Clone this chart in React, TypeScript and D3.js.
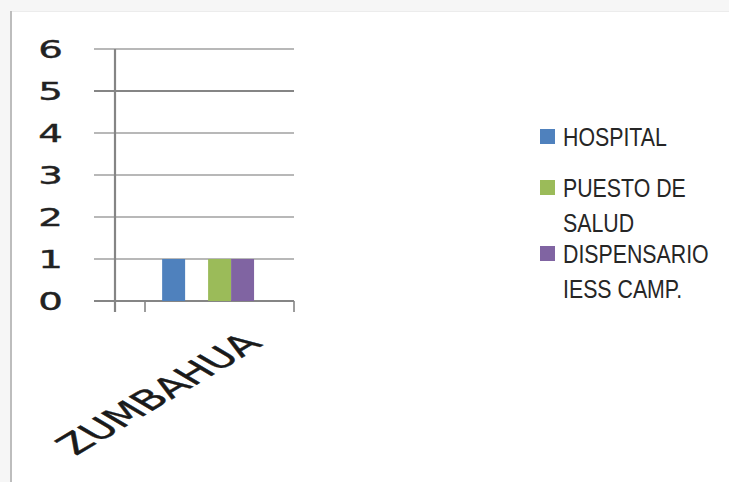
import React from 'react';
import * as d3 from 'd3';

const WIDTH = 729;
const HEIGHT = 482;

const categories = ['ZUMBAHUA'];
const seriesNames = ['HOSPITAL', '', 'PUESTO DE SALUD', 'DISPENSARIO IESS CAMP.'];
const seriesValues = [1, null, 1, 1];
const seriesColors = ['#4f81bd', '#c0504d', '#9bbb59', '#8064a2'];
const legendLines = [['HOSPITAL'], ['PUESTO DE', 'SALUD'], ['DISPENSARIO', 'IESS CAMP.']];
const legendColors = ['#4f81bd', '#9bbb59', '#8064a2'];
const yTicks = [0, 1, 2, 3, 4, 5, 6];

const axisX = 115;
const gridLeft = 94;
const gridRight = 294;

const App = () => {
    const yScale = d3.scaleLinear().domain([0, 6]).range([301, 49]);
    const xScale = d3.scaleBand<string>().domain(categories).range([145, 294]);
    const bw = xScale.bandwidth();
    const seriesScale = d3.scaleBand<number>()
        .domain(seriesNames.map((_, i) => i))
        .range([bw * 0.115, bw * 0.732]);

    const y0 = yScale(0);

    // legend rows
    let ly = 146;
    const legendRows = legendLines.map((lines, i) => {
        const row = {lines, y: ly, color: legendColors[i]};
        ly += 51 + (lines.length - 1) * 15;
        return row;
    });

    return (
        <svg width={WIDTH} height={HEIGHT}
             style={{position: 'absolute', left: 0, top: 0, display: 'block'}}>
            <rect x={0} y={0} width={WIDTH} height={HEIGHT} fill="#f6f6f6"/>
            <rect x={11} y={11} width={WIDTH - 11} height={HEIGHT - 11} fill="#ffffff"/>
            <line x1={11} x2={WIDTH} y1={11.5} y2={11.5} stroke="#ececec" strokeWidth={1}/>
            <line x1={11} x2={11} y1={11} y2={HEIGHT} stroke="#bdbdbd" strokeWidth={2}/>

            {/* gridlines */}
            {yTicks.map(t => (
                <line key={t} x1={gridLeft} x2={gridRight} y1={yScale(t)} y2={yScale(t)}
                      stroke={t === 5 || t === 0 ? '#858585' : '#a0a0a0'}
                      strokeWidth={t === 5 || t === 0 ? 2.2 : 1.4}/>
            ))}

            {/* y tick labels */}
            {yTicks.map(t => (
                <text key={t}
                      transform={`translate(63,${yScale(t) + 9}) scale(1.55,1)`}
                      textAnchor="end"
                      fontFamily="'DejaVu Sans', sans-serif"
                      fontSize={25}
                      stroke="#222"
                      strokeWidth={0.4}
                      fill="#222">
                    {t}
                </text>
            ))}

            {/* bars */}
            {categories.map(c => (
                <g key={c} transform={`translate(${xScale(c)},0)`}>
                    {seriesValues.map((v, i) => v == null ? null : (
                        <rect key={i}
                              x={seriesScale(i)}
                              y={yScale(v)}
                              width={seriesScale.bandwidth()}
                              height={y0 - yScale(v)}
                              fill={seriesColors[i]}/>
                    ))}
                </g>
            ))}

            {/* axes */}
            <line x1={axisX} x2={axisX} y1={yScale(6)} y2={y0 + 11} stroke="#858585" strokeWidth={2.2}/>
            {categories.map(c => (
                <g key={c}>
                    <line x1={xScale(c)} x2={xScale(c)} y1={y0} y2={y0 + 11}
                          stroke="#858585" strokeWidth={1.6}/>
                    <line x1={(xScale(c) || 0) + bw} x2={(xScale(c) || 0) + bw} y1={y0} y2={y0 + 11}
                          stroke="#858585" strokeWidth={1.6}/>
                    <text transform={`translate(${(xScale(c) || 0) + bw / 2 + 44},${y0 + 44}) scale(1.69,1) rotate(-45)`}
                          textAnchor="end"
                          fontFamily="'DejaVu Sans', sans-serif"
                          fontSize={27}
                          stroke="#1a1a1a"
                          strokeWidth={0.4}
                          fill="#1a1a1a">
                        {c}
                    </text>
                </g>
            ))}

            {/* legend */}
            {legendRows.map((r, i) => (
                <g key={i}>
                    <rect x={540} y={r.y - 17} width={15} height={15} fill={r.color}/>
                    {r.lines.map((l, k) => (
                        <text key={k}
                              transform={`translate(563,${r.y + k * 34.5}) scale(0.82,1)`}
                              fontFamily="'Liberation Sans', Arial, sans-serif"
                              fontSize={26}
                              fill="#262626">
                            {l}
                        </text>
                    ))}
                </g>
            ))}
        </svg>
    );
};

export default App;
